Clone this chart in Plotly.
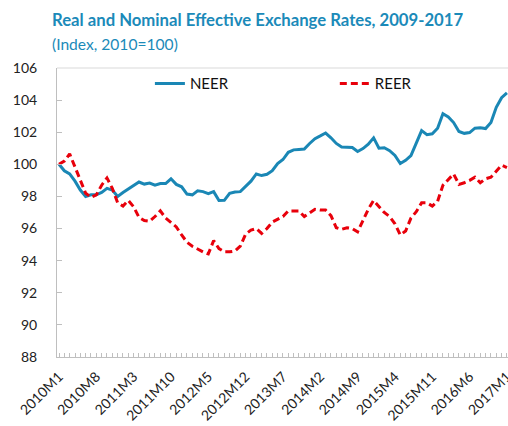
import plotly.graph_objects as go

months = [f"{y}M{m}" for y in range(2010, 2018) for m in range(1, 13)][:85]
tick_labels = ["2010M1", "2010M8", "2011M3", "2011M10", "2012M5", "2012M12", "2013M7",
               "2014M2", "2014M9", "2015M4", "2015M11", "2016M6", "2017M1"]

neer = [100.0, 99.6, 99.4, 98.95, 98.4, 98.0, 98.1, 98.1, 98.25, 98.5,
        98.4, 98.0, 98.25, 98.45, 98.65, 98.9, 98.77, 98.83, 98.7, 98.8,
        98.8, 99.1, 98.75, 98.6, 98.15, 98.1, 98.35, 98.3, 98.18, 98.3,
        97.75, 97.76, 98.2, 98.28, 98.3, 98.6, 98.95, 99.4, 99.3, 99.38,
        99.6, 100.05, 100.3, 100.75, 100.9, 100.93, 100.95, 101.3, 101.6, 101.77,
        101.95, 101.65, 101.3, 101.08, 101.08, 101.05, 100.8, 100.98, 101.25, 101.65,
        101.0, 101.03, 100.85, 100.55, 100.05, 100.25, 100.55, 101.3, 102.1, 101.85,
        101.9, 102.25, 103.15, 102.95, 102.6, 102.05, 101.93, 101.98, 102.25, 102.28,
        102.23, 102.6, 103.55, 104.15, 104.45]

reer = [100.0, 100.2, 100.65, 99.8, 99.0, 98.2, 97.95, 98.1, 98.7, 99.15,
        98.5, 97.6, 97.4, 97.75, 97.35, 96.7, 96.5, 96.45, 96.75, 97.1,
        96.65, 96.35, 96.1, 95.6, 95.15, 94.9, 94.7, 94.55, 94.42, 95.25,
        94.75, 94.55, 94.55, 94.6, 94.9, 95.65, 95.9, 96.0, 95.7, 96.0,
        96.4, 96.6, 96.75, 97.1, 97.1, 97.1, 96.75, 96.95, 97.2, 97.15,
        97.15, 96.8, 96.05, 95.95, 96.05, 96.0, 95.8, 96.5, 97.2, 97.75,
        97.35, 97.0, 96.75, 96.3, 95.6, 95.85, 96.65, 97.05, 97.6, 97.6,
        97.4, 97.7, 98.7, 99.05, 99.4, 98.75, 98.85, 99.0, 99.2, 98.85,
        99.1, 99.2, 99.6, 99.95, 99.8]

y_ticks = [88, 90, 92, 94, 96, 98, 100, 102, 104, 106]

blue = "#1a87b5"
red = "#e8000b"
x_idx = list(range(len(months)))

fig = go.Figure()
fig.add_trace(go.Scatter(x=x_idx, y=neer, mode="lines", name="NEER", legend="legend",
                         line=dict(color=blue, width=3), customdata=months,
                         hovertemplate="%{customdata}: %{y}<extra>NEER</extra>"))
fig.add_trace(go.Scatter(x=x_idx, y=reer, mode="lines", name="REER", legend="legend2",
                         line=dict(color=red, width=3, dash="7px,4px"), customdata=months,
                         hovertemplate="%{customdata}: %{y}<extra>REER</extra>"))

tick_pos = [months.index(t) for t in tick_labels]

leg_common = dict(orientation="h", yanchor="top", xanchor="left", y=1.003,
                  font=dict(size=15, color="#111111"), bgcolor="rgba(0,0,0,0)", itemwidth=30)

fig.update_layout(
    width=508, height=426,
    margin=dict(l=57, r=0, t=68, b=69),
    paper_bgcolor="white", plot_bgcolor="white",
    font=dict(family="Lato, sans-serif", color="#222222"),
    showlegend=True,
    legend=dict(x=0.206, **leg_common),
    legend2=dict(x=0.616, **leg_common),
    xaxis=dict(range=[-0.375, 84.2], tickmode="array", tickvals=tick_pos, ticktext=tick_labels,
               tickangle=-45, tickfont=dict(size=14), showgrid=False, zeroline=False,
               showline=True, linecolor="#bfbfbf", linewidth=1, automargin=False,
               ticklabeloverflow="allow", ticklabelstandoff=5,
               ticks="inside", ticklen=4, tickcolor="#bfbfbf",
               minor=dict(ticks="inside", ticklen=4, dtick=1, tick0=0, tickcolor="#bfbfbf")),
    yaxis=dict(range=[88, 106], tickvals=y_ticks, tickfont=dict(size=14), showgrid=False,
               zeroline=False, showline=True, linecolor="#bfbfbf", linewidth=1, automargin=False,
               ticks="inside", ticklen=5, tickcolor="#bfbfbf", ticklabelstandoff=16),
    shapes=[dict(type="line", xref="paper", yref="paper", x0=0, x1=1, y0=1, y1=1,
                 line=dict(color="#d9d9d9", width=1))],
    annotations=[
        dict(text="<b>Real and Nominal Effective Exchange Rates, 2009-2017</b>",
             xref="paper", yref="paper", x=-0.016, y=(357 - 20) / 289, xanchor="left",
             yanchor="middle", showarrow=False,
             font=dict(family="Lato, sans-serif", size=16.7, color="#1b8ab9")),
        dict(text="(Index, 2010=100)", xref="paper", yref="paper", x=-0.016,
             y=(357 - 44) / 289, xanchor="left", yanchor="middle", showarrow=False,
             font=dict(family="Lato, sans-serif", size=15.6, color="#1b8ab9")),
    ],
)

fig.write_html("out.html", config={"displayModeBar": False},
               post_script="document.body.style.margin='0';")
